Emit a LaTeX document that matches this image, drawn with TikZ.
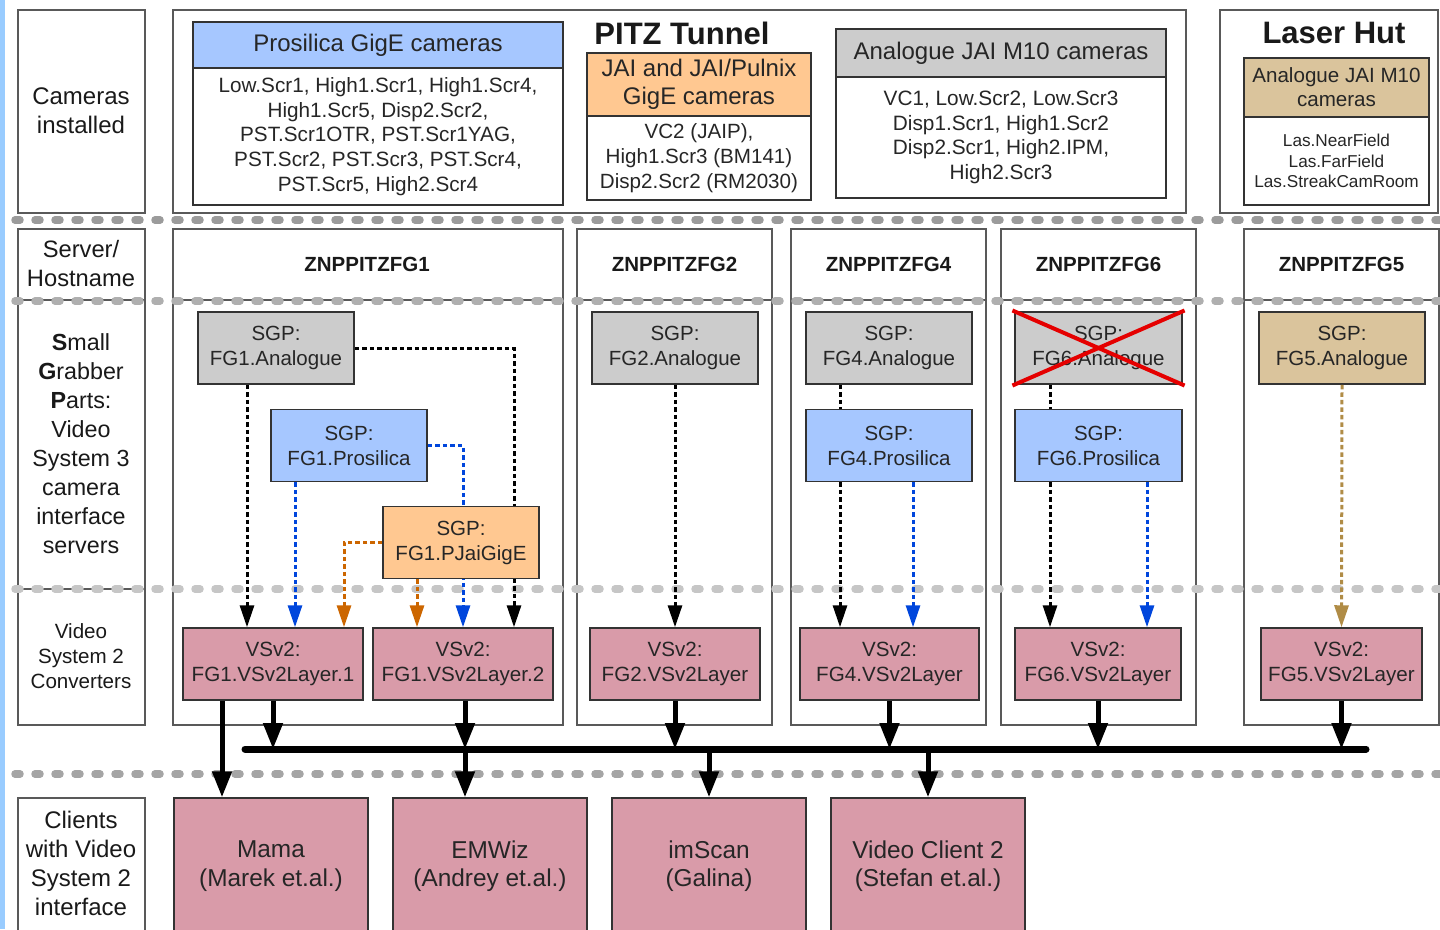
\documentclass[tikz,border=0pt]{standalone}
\usepackage{fontspec}
\setmainfont{Liberation Sans}
\usetikzlibrary{arrows.meta}
\definecolor{hblue}{RGB}{166,199,255}
\definecolor{horange}{RGB}{255,200,145}
\definecolor{hgrey}{RGB}{204,204,204}
\definecolor{htan}{RGB}{218,196,156}
\definecolor{hpink}{RGB}{217,155,169}
\definecolor{sgrey}{RGB}{155,155,155}
\definecolor{slight}{RGB}{198,198,198}
\definecolor{cblue}{RGB}{0,70,220}
\definecolor{corange}{RGB}{204,102,0}
\definecolor{ctan}{RGB}{176,140,70}
\definecolor{stripblue}{RGB}{153,204,255}
\newcommand{\fsz}[2]{\fontsize{#1}{#2}\selectfont}
\begin{document}
\begin{tikzpicture}[x=1pt,y=-1pt,
  frame/.style={draw=black!65,line width=1.3pt},
  sepline/.style={line width=7.5pt,line cap=round,dash pattern=on 5pt off 15pt},
  box/.style={draw=black!80,line width=1.5pt,inner sep=0pt,align=center,text=black!85},
  lbl/.style={inner sep=0pt,align=center,text=black!90},
  sgpbox/.style={box,minimum width=156pt,minimum height=72pt,font=\fsz{20.5}{25}},
  vsbox/.style={box,fill=hpink,minimum height=72pt,font=\fsz{20.6}{25}},
  clbox/.style={box,fill=hpink,minimum width=194pt,minimum height=136pt,font=\fsz{24.4}{28.5}},
  host/.style={lbl,font=\bfseries\fsz{20.5}{24}},
  dconn/.style={line width=3pt,dash pattern=on 4.5pt off 3pt,-{Triangle[width=14pt,length=22pt]}},
  thick/.style={line width=5pt,-{Triangle[width=19pt,length=26pt]}}
]
\useasboundingbox (0,0) rectangle (1440,929);
\fill[stripblue] (0,0) rectangle (5,929);

% frames
\draw[frame] (18,10) rectangle (145,213);
\draw[frame] (173,10) rectangle (1186,213);
\draw[frame] (1220,10) rectangle (1438,213);
\draw[frame] (18,229) rectangle (145,725);
\draw[frame] (18,300) -- (145,300);
\draw[frame] (18,589) -- (145,589);
\foreach \xa/\xb in {173/563,577/772,791/986,1001/1196,1244/1439}{
  \draw[frame] (\xa,229) rectangle (\xb,725);
  \draw[frame] (\xa,300) -- (\xb,300);
}
\draw[frame] (18,798) rectangle (145,945);

% separators
\draw[sepline,draw=sgrey] (15,220) -- (1440,220);
\draw[sepline,draw=sgrey!80] (15,301) -- (1440,301);
\draw[sepline,draw=slight] (15,589) -- (1440,589);
\draw[sepline,draw=sgrey!90] (15,774) -- (1440,774);

% left labels
\node[lbl,font=\fsz{24}{29}] (lcam) at (81,110.5) {Cameras\\installed};
\node[lbl,font=\fsz{23.7}{29}] (lhost) at (81,263.5) {Server/\\Hostname};
\node[lbl,font=\fsz{23.3}{29}] (lsgp) at (81,444) {\textbf{S}mall\\\textbf{G}rabber\\\textbf{P}arts:\\Video\\System 3\\camera\\interface\\servers};
\node[lbl,font=\fsz{20.6}{25}] (lvs) at (81,656) {Video\\System 2\\Converters};
\node[lbl,font=\fsz{24}{29}] (lcl) at (81,863) {Clients\\with Video\\System 2\\interface};

% camera boxes
\node[box,fill=hblue,minimum width=370pt,minimum height=46pt,font=\fsz{24}{28}] (proh) at (378,45) {Prosilica GigE cameras};
\node[box,fill=white,minimum width=370pt,minimum height=137pt,font=\fsz{20.7}{24.7}] (prob) at (378,136.5) {Low.Scr1, High1.Scr1, High1.Scr4,\\High1.Scr5, Disp2.Scr2,\\PST.Scr1OTR, PST.Scr1YAG,\\PST.Scr2, PST.Scr3, PST.Scr4,\\PST.Scr5, High2.Scr4};
\node[lbl,font=\bfseries\fsz{31}{34}] (pitz) at (682,33) {PITZ Tunnel};
\node[box,fill=horange,minimum width=224pt,minimum height=63pt,font=\fsz{24}{28.5}] (jaih) at (699,84.5) {JAI and JAI/Pulnix\\GigE cameras};
\node[box,fill=white,minimum width=224pt,minimum height=84pt,font=\fsz{20.6}{25}] (jaib) at (699,158) {VC2 (JAIP),\\High1.Scr3 (BM141)\\Disp2.Scr2 (RM2030)};
\node[box,fill=hgrey,minimum width=330pt,minimum height=48pt,font=\fsz{24}{28}] (anah) at (1001,53) {Analogue JAI M10 cameras};
\node[box,fill=white,minimum width=330pt,minimum height=121pt,font=\fsz{20.8}{24.7}] (anab) at (1001,137.5) {VC1, Low.Scr2, Low.Scr3\\Disp1.Scr1, High1.Scr2\\Disp2.Scr1, High2.IPM,\\High2.Scr3};
\node[lbl,font=\bfseries\fsz{31}{34}] (laser) at (1334,33) {Laser Hut};
\node[box,fill=htan,minimum width=185pt,minimum height=59pt,font=\fsz{20.6}{24}] (lash) at (1336.5,87.5) {Analogue JAI M10\\cameras};
\node[box,fill=white,minimum width=185pt,minimum height=88pt,font=\fsz{17.2}{20.5}] (lasb) at (1336.5,161) {Las.NearField\\Las.FarField\\Las.StreakCamRoom};

% hostnames
\node[host] (h1) at (367,264) {ZNPPITZFG1};
\node[host] (h2) at (674.5,264) {ZNPPITZFG2};
\node[host] (h4) at (888.5,264) {ZNPPITZFG4};
\node[host] (h6) at (1098.5,264) {ZNPPITZFG6};
\node[host] (h5) at (1341.5,264) {ZNPPITZFG5};

% VSv2 nodes
\node[vsbox,minimum width=180pt] (v11) at (273,664) {VSv2:\\FG1.VSv2Layer.1};
\node[vsbox,minimum width=180pt] (v12) at (463,664) {VSv2:\\FG1.VSv2Layer.2};
\node[vsbox,minimum width=170pt] (v2) at (675,664) {VSv2:\\FG2.VSv2Layer};
\node[vsbox,minimum width=179pt] (v4) at (889.5,664) {VSv2:\\FG4.VSv2Layer};
\node[vsbox,minimum width=166pt] (v6) at (1098,664) {VSv2:\\FG6.VSv2Layer};
\node[vsbox,minimum width=161pt] (v5) at (1341.5,664) {VSv2:\\FG5.VSv2Layer};

% SGP nodes
\path (276,348) coordinate (ca1) (349,445.5) coordinate (cp1) (461,542.5) coordinate (cj1)
      (675,348) coordinate (ca2) (889,348) coordinate (ca4) (889,445.5) coordinate (cp4)
      (1098.5,348) coordinate (ca6) (1098.5,445.5) coordinate (cp6) (1342,348) coordinate (ca5);
\node[sgpbox,fill=hgrey] (a1) at (ca1) {SGP:\\FG1.Analogue};
\node[sgpbox,fill=hblue] (p1) at (cp1) {SGP:\\FG1.Prosilica};
\node[sgpbox,fill=horange] (j1) at (cj1) {SGP:\\FG1.PJaiGigE};
\node[sgpbox,fill=hgrey,minimum width=166pt] (a2) at (ca2) {SGP:\\FG2.Analogue};
\node[sgpbox,fill=hgrey,minimum width=166pt] (a4) at (ca4) {SGP:\\FG4.Analogue};
\node[sgpbox,fill=hblue,minimum width=166pt] (p4) at (cp4) {SGP:\\FG4.Prosilica};
\node[sgpbox,fill=hgrey,minimum width=167pt] (a6) at (ca6) {SGP:\\FG6.Analogue};
\node[sgpbox,fill=hblue,minimum width=167pt] (p6) at (cp6) {SGP:\\FG6.Prosilica};
\node[sgpbox,fill=htan,minimum width=166pt] (a5) at (ca5) {SGP:\\FG5.Analogue};

% dashed connectors
\draw[dconn,black] ([xshift=-29pt]a1.south) -- ([xshift=-26pt]v11.north);
\draw[dconn,black] (a1.east) -| ([xshift=51pt]v12.north);
\draw[dconn,cblue] ([xshift=-54pt]p1.south) -- ([xshift=22pt]v11.north);
\draw[dconn,cblue] (p1.east) -| (v12.north);
\draw[dconn,corange] (j1.west) -| ([xshift=71pt]v11.north);
\draw[dconn,corange] ([xshift=-44pt]j1.south) -- ([xshift=-46pt]v12.north);
\draw[dconn,black] (a2.south) -- (v2.north);
\draw[dconn,black] ([xshift=-49pt]a4.south) -- ([xshift=-49.5pt]v4.north);
\draw[dconn,cblue] ([xshift=24pt]p4.south) -- ([xshift=23.5pt]v4.north);
\draw[dconn,black] ([xshift=-48.5pt]a6.south) -- ([xshift=-48pt]v6.north);
\draw[dconn,cblue] ([xshift=48.5pt]p6.south) -- ([xshift=49pt]v6.north);
\draw[dconn,ctan] (a5.south) -- (v5.north);

% redraw boxes on top of connectors
\node[sgpbox,fill=hgrey] at (ca1) {SGP:\\FG1.Analogue};
\node[sgpbox,fill=hblue] at (cp1) {SGP:\\FG1.Prosilica};
\node[sgpbox,fill=horange] at (cj1) {SGP:\\FG1.PJaiGigE};
\node[sgpbox,fill=hblue,minimum width=166pt] at (cp4) {SGP:\\FG4.Prosilica};
\node[sgpbox,fill=hblue,minimum width=167pt] at (cp6) {SGP:\\FG6.Prosilica};

% red cross
\draw[red!90!black,line width=4pt,shorten <=-2pt,shorten >=-2pt] (a6.north west) -- (a6.south east);
\draw[red!90!black,line width=4pt,shorten <=-2pt,shorten >=-2pt] (a6.south west) -- (a6.north east);

% clients
\node[clbox] (mama) at (271,866) {Mama\\(Marek et.al.)};
\node[clbox] (emwiz) at (490,866) {EMWiz\\(Andrey et.al.)};
\node[clbox] (imscan) at (709,866) {imScan\\(Galina)};
\node[clbox] (vc2) at (928,866) {Video Client 2\\(Stefan et.al.)};

% bus
\coordinate (busL) at (245,749);
\coordinate (busR) at (1366,749);
\draw[line width=7pt,line cap=round] (busL) -- (busR);

% thick arrows
\draw[thick] ([xshift=-51pt]v11.south) -- ([xshift=-49pt]mama.north);
\draw[thick] (v11.south) -- (v11.south |- busL);
\draw[thick] ([xshift=2pt]v12.south) -- ([xshift=2pt]v12.south |- busL);
\draw[thick] (v2.south) -- (v2.south |- busL);
\draw[thick] (v4.south) -- (v4.south |- busL);
\draw[thick] (v6.south) -- (v6.south |- busL);
\draw[thick] (v5.south) -- (v5.south |- busL);
\draw[thick] ([xshift=-25pt]emwiz.north |- busL) -- ([xshift=-25pt]emwiz.north);
\draw[thick] (imscan.north |- busL) -- (imscan.north);
\draw[thick] (vc2.north |- busL) -- (vc2.north);
\end{tikzpicture}
\end{document}
